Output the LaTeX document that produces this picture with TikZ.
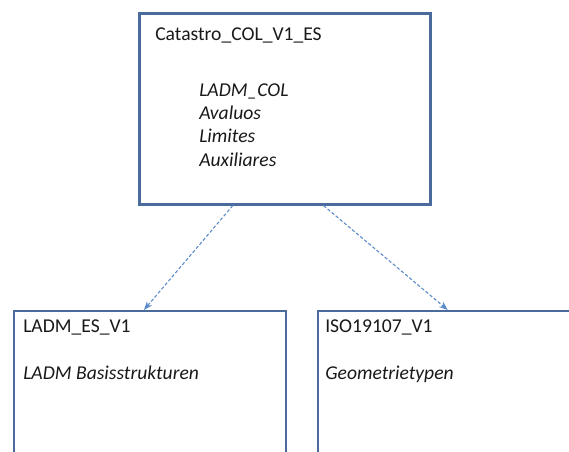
\documentclass[tikz,border=0pt]{standalone}
\usepackage{fontspec}
\setmainfont{Carlito}
\usetikzlibrary{arrows.meta, calc}

\definecolor{pkgline}{HTML}{4A6B9B}
\definecolor{depline}{HTML}{5B8ACB}

\begin{document}
\begin{tikzpicture}[
  x=0.75pt, y=-0.75pt, >=Stealth,
  every node/.style={font=\fontsize{14.7}{17.5}\selectfont, inner sep=0pt},
  pkg/.style={draw=pkgline, line width=1.4pt, anchor=north west},
  txt/.style={anchor=base west, text=black!90},
  dep/.style={->, draw=depline, line width=0.8pt, dash pattern=on 2.5pt off 1.5pt}
]
  \clip (0,0) rectangle (569,452);
  % packages
  \node[pkg, line width=1.9pt, minimum width=218.25pt, minimum height=143.25pt] (cat) at (138,12) {};
  \node[pkg, minimum width=204pt, minimum height=120pt] (ladm) at (13,310) {};
  \node[pkg, minimum width=212.25pt, minimum height=120pt] (iso) at (317,310) {};
  % texts
  \node[txt] (catname) at (155,41) {Catastro\_COL\_V1\_ES};
  \node[txt] (cat1) at (199,97) {\itshape LADM\_COL};
  \node[txt] (cat2) at (199,120) {\itshape Avaluos};
  \node[txt] (cat3) at (199,143) {\itshape Limites};
  \node[txt] (cat4) at (199,167) {\itshape Auxiliares};
  \node[txt] (ladmname) at (23,333) {LADM\_ES\_V1};
  \node[txt] (ladm1) at (23,380) {\itshape LADM Basisstrukturen};
  \node[txt] (isoname) at (325,333) {ISO19107\_V1};
  \node[txt] (iso1) at (325,380) {\itshape Geometrietypen};
  % dependencies
  \draw[dep] ($(cat.south west)!0.323!(cat.south east)$) -- ($(ladm.north west)!0.478!(ladm.north east)$);
  \draw[dep] ($(cat.south west)!0.632!(cat.south east)$) -- ($(iso.north west)!0.459!(iso.north east)$);
\end{tikzpicture}
\end{document}
